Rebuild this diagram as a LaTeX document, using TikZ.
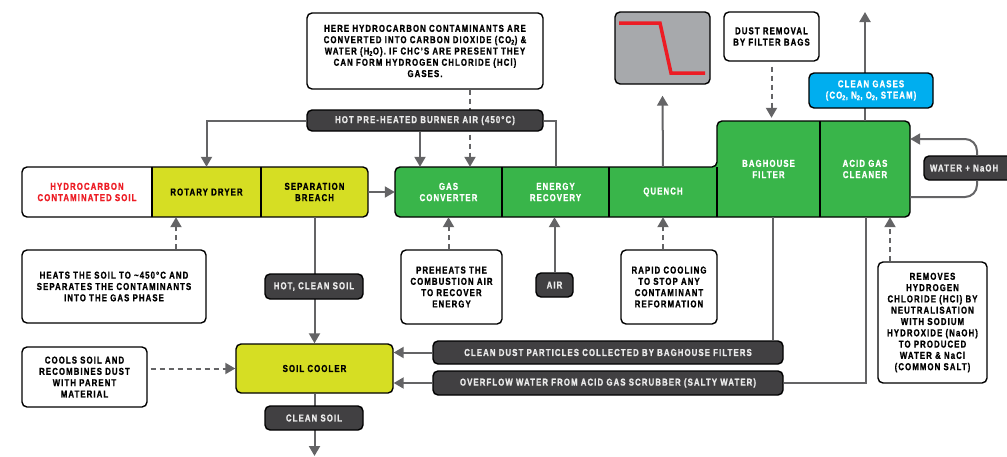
\documentclass[tikz,border=0pt]{standalone}
\usepackage{fontspec}
\setmainfont{Liberation Sans}[FakeStretch=0.78, LetterSpace=11, BoldFeatures={FakeBold=1.2}]
\usepackage{tikz}
\usetikzlibrary{arrows.meta, positioning}
\definecolor{tdGreen}{RGB}{57,181,74}
\definecolor{tdYellow}{RGB}{214,222,35}
\definecolor{tdDark}{RGB}{65,64,66}
\definecolor{tdLine}{RGB}{100,100,102}
\definecolor{tdRed}{RGB}{237,28,36}
\definecolor{tdCyan}{RGB}{0,174,239}
\definecolor{tdGrey}{RGB}{167,169,172}

\tikzset{
  every node/.style={font=\fontsize{10}{11.3}\selectfont\bfseries},
  cell/.style n args={2}{minimum width=#1, minimum height=#2, inner sep=0pt, align=center},
  note/.style={draw=black, line width=1.4pt, fill=white, rounded corners=5pt,
               inner sep=0pt, align=center},
  tag/.style={note, fill=tdDark, text=white!92!black},
  link/.style={draw=tdLine, line width=2pt},
  flow/.style={link, -{Triangle[length=10pt,width=11pt]}},
  hint/.style={flow, dash pattern=on 5pt off 4pt},
  outline/.style={draw=black, line width=1.4pt}
}

\begin{document}
\begin{tikzpicture}[x=1pt, y=-1pt]
\useasboundingbox (0,0) rectangle (1007,456);

% soil line: feed, dryer, breach
\begin{scope}
  \clip[rounded corners=5pt] (22,192) -- (22,167) -- (368,167) -- (368,217) -- (22,217) -- cycle;
  \fill[white] (22,167) rectangle (152,217);
  \fill[tdYellow] (152,167) rectangle (368,217);
\end{scope}
\draw[outline, rounded corners=5pt] (22,192) -- (22,167) -- (368,167) -- (368,217) -- (22,217) -- cycle;
\draw[outline] (152,167) -- (152,217) (261,167) -- (261,217);
\node[cell={130}{50}, text=tdRed] (feed) at (87,192) {HYDROCARBON\\CONTAMINATED SOIL};
\node[cell={109}{50}] (dryer) at (206.5,192) {ROTARY DRYER};
\node[cell={107}{50}] (breach) at (314.5,192) {SEPARATION\\BREACH};

% gas line
\filldraw[outline, fill=tdGreen, rounded corners=5pt] (395,192) -- (395,167) -- (717,167) -- (717,121)
  -- (910,121) -- (910,217) -- (395,217) -- cycle;
\draw[outline] (502,167) -- (502,217) (609,167) -- (609,217) (717,167) -- (717,217) (820,121) -- (820,217);
\node[cell={107}{50}, text=white] (conv) at (448.5,192) {GAS\\CONVERTER};
\node[cell={107}{50}, text=white] (recov) at (555.5,192) {ENERGY\\RECOVERY};
\node[cell={108}{50}, text=white] (quench) at (663,192) {QUENCH};
\node[cell={103}{96}, text=white] (bag) at (768.5,169) {BAGHOUSE\\FILTER};
\node[cell={90}{96}, text=white] (acid) at (865,169) {ACID GAS\\CLEANER};

% notes
\node[note, minimum width=236, minimum height=76] (hcnote) at (425,51)
  {HERE HYDROCARBON CONTAMINANTS ARE\\CONVERTED INTO CARBON DIOXIDE (CO\textsubscript{2}) \&\\WATER (H\textsubscript{2}O). IF CHC'S ARE PRESENT THEY\\CAN FORM HYDROGEN CHLORIDE (HCl)\\GASES.};
\node[note, minimum width=184, minimum height=73] (heats) at (114,286.5)
  {HEATS THE SOIL TO \textasciitilde450°C AND\\SEPARATES THE CONTAMINANTS\\INTO THE GAS PHASE};
\node[note, minimum width=101, minimum height=74] (preheat) at (451.5,287)
  {PREHEATS THE\\COMBUSTION AIR\\TO RECOVER\\ENERGY};
\node[note, minimum width=96, minimum height=74] (rapid) at (669,287)
  {RAPID COOLING\\TO STOP ANY\\CONTAMINANT\\REFORMATION};
\node[note, minimum width=95, minimum height=49] (dust) at (771.5,36.5)
  {DUST REMOVAL\\BY FILTER BAGS};
\node[note, minimum width=109, minimum height=121] (removes) at (932.5,322.5)
  {REMOVES\\HYDROGEN\\CHLORIDE (HCl) BY\\NEUTRALISATION\\WITH SODIUM\\HYDROXIDE (NaOH)\\TO PRODUCED\\WATER \& NaCl\\(COMMON SALT)};
\node[note, minimum width=125, minimum height=60] (cools) at (84.5,377)
  {COOLS SOIL AND\\RECOMBINES DUST\\WITH PARENT\\MATERIAL};
\node[note, fill=tdYellow, minimum width=157, minimum height=49] (cooler) at (314.5,368.5) {SOIL COOLER};

% quench profile
\node[note, fill=tdGrey, minimum width=95, minimum height=72] (profile) at (662.5,48) {};
\draw[tdRed, line width=3.5pt] ([shift={(-43.5,-25)}]profile.center) -- ([shift={(-2.5,-25)}]profile.center)
  -- ([shift={(8.5,25)}]profile.center) -- ([shift={(42.5,25)}]profile.center);

% connectors running behind labels
\coordinate (gasout) at (865,12);
\coordinate (soilout) at (314.5,456);
\draw[hint] ([xshift=45]hcnote.south) -- ([xshift=45]hcnote.south |- conv.north);
\draw[flow] (acid.north) -- (gasout);
\draw[flow] (breach.south) -- (cooler.north);
\draw[flow] (cooler.south) -- (soilout);

% labels
\node[tag, minimum width=236, minimum height=21] (burner) at (425,120.5) {HOT PRE-HEATED BURNER AIR (450°C)};
\node[note, fill=tdCyan, text=white, minimum width=124, minimum height=35] (clean) at (871,90.5)
  {CLEAN GASES\\(CO\textsubscript{2}, N\textsubscript{2}, O\textsubscript{2}, STEAM)};
\node[tag, minimum width=98, minimum height=25] (hotsoil) at (314,286.5) {HOT, CLEAN SOIL};
\node[tag, minimum width=98, minimum height=24] (cleansoil) at (314,418) {CLEAN SOIL};
\node[tag, minimum width=37, minimum height=24] (air) at (554.5,285) {AIR};
\node[tag, minimum width=96, minimum height=24, text width=84, align=left] (water) at (972,168) {WATER + NaOH};
\node[tag, minimum width=350, minimum height=23] (dustback) at (608,352.5)
  {CLEAN DUST PARTICLES COLLECTED BY BAGHOUSE FILTERS};
\node[tag, minimum width=350, minimum height=24] (overflow) at (608,383)
  {OVERFLOW WATER FROM ACID GAS SCRUBBER (SALTY WATER)};

% connectors
\draw[flow] (breach.east) -- (conv.west);
\draw[flow] (burner.west) -| (dryer.north);
\draw[flow] ([xshift=-5]burner.south) -- ([xshift=-5]burner.south |- conv.north);
\draw[link] (recov.north) |- (burner.east);
\draw[flow] (quench.north) -- ([yshift=-11]profile.south);
\draw[hint, shorten <=5pt, shorten >=3pt] (dust.south) -- (dust.south |- bag.north);
\draw[flow, rounded corners=12pt] ([xshift=5]water.north) |- ([yshift=30]acid.east);
\draw[link, rounded corners=12pt] ([xshift=5]water.south) |- ([yshift=-28]acid.east);
\draw[hint] ([xshift=-42.5]removes.north) -- ([xshift=-42.5]removes.north |- acid.south);
\draw[link] ([xshift=4]bag.south) -- ([xshift=4]bag.south |- dustback.north);
\draw[flow] (dustback.west) -- (dustback.west -| cooler.east);
\draw[link] ([xshift=1]acid.south) |- (overflow.east);
\draw[flow] (overflow.west) -- (overflow.west -| cooler.east);
\draw[hint] ([xshift=62]heats.north) -- ([xshift=62]heats.north |- dryer.south);
\draw[hint] (conv.south |- preheat.north) -- (conv.south);
\draw[flow] (air.north) -- (air.north |- recov.south);
\draw[hint] (quench.south |- rapid.north) -- (quench.south);
\draw[hint, shorten <=3pt] (cools.east |- cooler.west) -- (cooler.west);
\end{tikzpicture}
\end{document}
